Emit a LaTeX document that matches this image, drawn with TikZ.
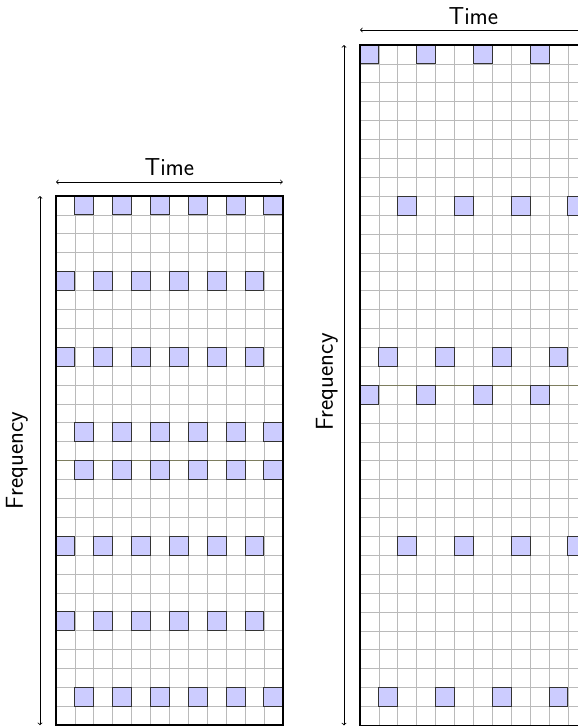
\documentclass[tikz,border=0pt]{standalone}
\usepackage{fontspec}
\usetikzlibrary{calc}
\begin{document}
\begin{tikzpicture}[x=1pt,y=-1pt,
  gridline/.style={draw=black!27,line width=0.8pt},
  frame/.style={draw=black,line width=1.6pt},
  sepline/.style={draw={rgb,255:red,125;green,125;blue,95},line width=1.1pt},
  pilot/.style={fill={rgb,255:red,204;green,204;blue,255},draw=black!80,line width=1pt},
  axis/.style={draw=black,line width=0.8pt,<->},
  lbl/.style={font=\fontsize{24.5}{28}\sffamily\selectfont,inner sep=0pt}]
\useasboundingbox (0,0) rectangle (578,726);
\clip (0,0) rectangle (578,726);
\def\cs{18.9}
% ---------- left grid ----------
\begin{scope}[shift={(56,196)}]
  \foreach \i in {1,...,11} \draw[gridline] (\i*\cs,0) -- (\i*\cs,28*\cs);
  \foreach \j in {1,...,27} \draw[gridline] (0,\j*\cs) -- (12*\cs,\j*\cs);
  \draw[sepline] (0,14*\cs) -- (12*\cs,14*\cs);
  \foreach \s in {0,14} {
    \foreach \c in {1,3,...,11} {
      \draw[pilot] (\c*\cs,\s*\cs) rectangle ++(\cs,\cs);
      \draw[pilot] (\c*\cs,\s*\cs+12*\cs) rectangle ++(\cs,\cs);
    }
    \foreach \c in {0,2,...,10} {
      \draw[pilot] (\c*\cs,\s*\cs+4*\cs) rectangle ++(\cs,\cs);
      \draw[pilot] (\c*\cs,\s*\cs+8*\cs) rectangle ++(\cs,\cs);
    }
  }
  \draw[frame] (0,0) rectangle (12*\cs,28*\cs);
  \coordinate (LT1) at (0,-14);
  \coordinate (LT2) at (12*\cs,-14);
  \coordinate (LF1) at (-16,0);
  \coordinate (LF2) at (-16,28*\cs);
\end{scope}
\draw[axis] (LT1) -- (LT2);
\node[lbl,anchor=base] (ltime) at ($(LT1)!0.5!(LT2)+(0,-7)$) {Time};
\draw[axis] (LF2) -- (LF1);
\node[lbl,rotate=90,anchor=center] (lfreq) at (17,460.5) {Frequency};
% ---------- right grid ----------
\begin{scope}[shift={(360,45)}]
  \foreach \i in {1,...,11} \draw[gridline] (\i*\cs,0) -- (\i*\cs,36*\cs);
  \foreach \j in {1,...,35} \draw[gridline] (0,\j*\cs) -- (12*\cs,\j*\cs);
  \draw[sepline] (0,18*\cs) -- (12*\cs,18*\cs);
  \foreach \s in {0,18} {
    \foreach \c in {0,3,6,9} \draw[pilot] (\c*\cs,\s*\cs) rectangle ++(\cs,\cs);
    \foreach \c in {2,5,8,11} \draw[pilot] (\c*\cs,\s*\cs+8*\cs) rectangle ++(\cs,\cs);
    \foreach \c in {1,4,7,10} \draw[pilot] (\c*\cs,\s*\cs+16*\cs) rectangle ++(\cs,\cs);
  }
  \draw[frame] (0,0) rectangle (12*\cs,36*\cs);
  \coordinate (RT1) at (0,-15);
  \coordinate (RT2) at (12*\cs,-15);
  \coordinate (RF1) at (-16,0);
  \coordinate (RF2) at (-16,36*\cs);
\end{scope}
\draw[axis] (RT1) -- (RT2);
\node[lbl,anchor=base] (rtime) at ($(RT1)!0.5!(RT2)+(0,-6)$) {Time};
\draw[axis] (RF2) -- (RF1);
\node[lbl,rotate=90,anchor=center] (rfreq) at (327,382) {Frequency};
\end{tikzpicture}
\end{document}
